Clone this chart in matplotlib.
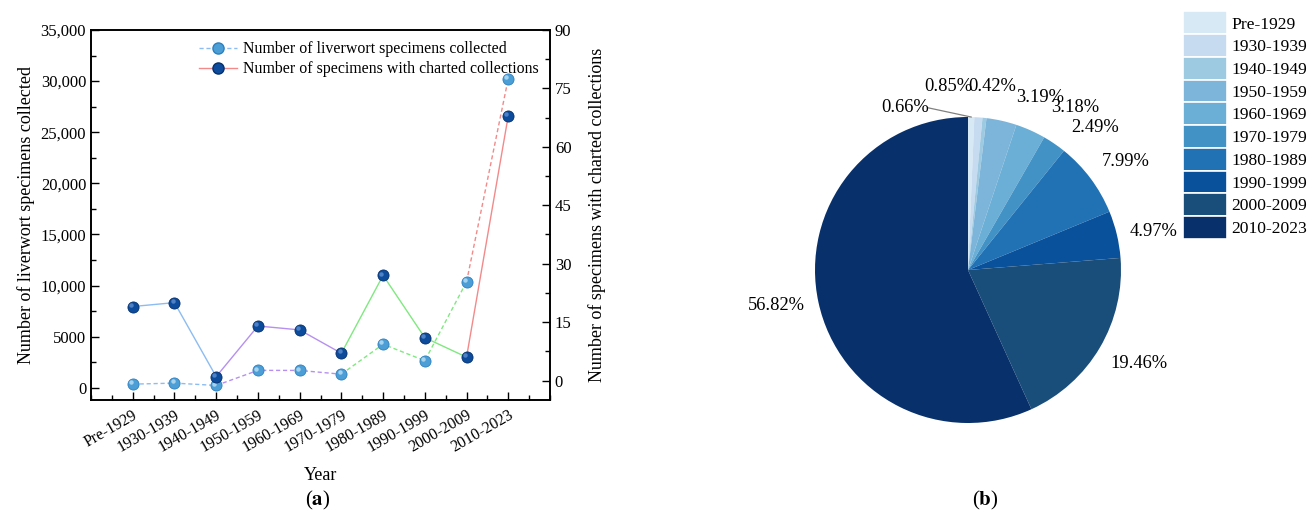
import matplotlib
matplotlib.use("Agg")
import matplotlib.pyplot as plt
import numpy as np
from matplotlib.lines import Line2D
from matplotlib.patches import Patch
from matplotlib.ticker import MultipleLocator, FuncFormatter
import matplotlib.transforms as mtransforms

plt.rcParams['font.family'] = ['Liberation Serif', 'DejaVu Serif']
plt.rcParams['mathtext.fontset'] = 'stix'

# ---------------- data ----------------
periods = ["Pre-1929", "1930-1939", "1940-1949", "1950-1959", "1960-1969",
           "1970-1979", "1980-1989", "1990-1999", "2000-2009", "2010-2023"]
specimens = [351, 452, 224, 1698, 1693, 1326, 4254, 2646, 10360, 30250]
charted = [19, 20, 1, 14, 13, 7, 27, 11, 6, 68]
pie_pct = [0.66, 0.85, 0.42, 3.19, 3.18, 2.49, 7.99, 4.97, 19.46, 56.82]

# segment groups (start index, end index) and colours
seg_groups = [(0, 2), (2, 5), (5, 8), (8, 9)]
seg_colors = ["#8cbcf2", "#b690f0", "#80e880", "#f28a8a"]
pie_colors = ["#d6e9f4", "#c6dbef", "#9ecae1", "#7db4d9", "#6baed6",
              "#4292c6", "#2171b5", "#0a519c", "#1a4e7a", "#08306b"]

fig = plt.figure(figsize=(13.12, 5.19), dpi=100)

# ---------------- (a) line chart ----------------
ax = fig.add_axes([91/1312, 1-400/519, (550-91)/1312, (400-30)/519])
ax2 = ax.twinx()
x = np.arange(len(periods))

light_c, light_e = "#4b9fd6", "#2f7fbf"
dark_c, dark_e = "#0d4c9c", "#06306a"

for (a, b), c in zip(seg_groups, seg_colors):
    ax.plot(x[a:b+1], specimens[a:b+1], ls=(0, (3, 2)), color=c, lw=1.0, zorder=2)
    ax2.plot(x[a:b+1], charted[a:b+1], ls='-', color=c, lw=1.0, zorder=2)

ax.plot(x, specimens, ls='none', marker='o', ms=8, mfc=light_c, mec=light_e,
        mew=0.6, zorder=3)
ax2.plot(x, charted, ls='none', marker='o', ms=8, mfc=dark_c, mec=dark_e,
         mew=0.6, zorder=3)
# sphere highlights
off1 = mtransforms.offset_copy(ax.transData, fig=fig, x=-1.3, y=1.3, units='points')
off2 = mtransforms.offset_copy(ax2.transData, fig=fig, x=-1.3, y=1.3, units='points')
ax.plot(x, specimens, ls='none', marker='o', ms=3.2, mfc="#bfe0f5", mec='none',
        alpha=0.8, transform=off1, zorder=4)
ax2.plot(x, charted, ls='none', marker='o', ms=3.2, mfc="#5f8fd0", mec='none',
         alpha=0.8, transform=off2, zorder=4)

ax.set_xlim(-1, 10)
ax.set_ylim(-1200, 35000)
ax2.set_ylim(-5.0, 90)
ax.set_xticks(x)
ax.set_xticklabels(periods, rotation=30, ha='right', rotation_mode='anchor',
                   fontsize=11.5)
ax.xaxis.set_minor_locator(MultipleLocator(0.5))
ax.yaxis.set_major_locator(MultipleLocator(5000))
ax.yaxis.set_minor_locator(MultipleLocator(2500))
ax.yaxis.set_major_formatter(FuncFormatter(
    lambda v, p: f"{int(v):,}" if v >= 10000 else f"{int(v)}"))
ax2.yaxis.set_major_locator(MultipleLocator(15))
ax2.yaxis.set_minor_locator(MultipleLocator(7.5))

for a_ in (ax, ax2):
    a_.tick_params(which='both', direction='in', labelsize=12, width=1.0)
    a_.tick_params(which='major', length=6)
    a_.tick_params(which='minor', length=3.5)
    for s in a_.spines.values():
        s.set_linewidth(1.2)
ax.tick_params(axis='x', labelsize=11.5, pad=5)

ax.set_ylabel("Number of liverwort specimens collected", fontsize=13, labelpad=4)
ax2.set_ylabel("Number of specimens with charted collections", fontsize=13,
               labelpad=12)
ax.set_xlabel("Year", fontsize=13, labelpad=8)

handles = [
    Line2D([0], [0], color=seg_colors[0], ls=(0, (3, 2)), lw=1.0, marker='o',
           ms=8, mfc=light_c, mec=light_e),
    Line2D([0], [0], color=seg_colors[3], ls='-', lw=1.0, marker='o',
           ms=8, mfc=dark_c, mec=dark_e),
]
ax2.legend(handles, ["Number of liverwort specimens collected",
                     "Number of specimens with charted collections"],
           loc='upper right', frameon=False, fontsize=11.4, handlelength=2.4,
           handletextpad=0.4, labelspacing=0.25, borderaxespad=0.3)

fig.text(318/1312, 1-500/519, r"($\mathbf{a}$)", fontsize=15, ha='center',
         va='center')

# ---------------- (b) pie chart ----------------
R = 153.0
half = R * 1.5
pax = fig.add_axes([(968-half)/1312, (519-270-half)/519, 2*half/1312, 2*half/519])
wedges, _ = pax.pie(pie_pct, colors=pie_colors, startangle=90, counterclock=False,
                    radius=1.0, wedgeprops=dict(linewidth=0))
pax.set_xlim(-1.5, 1.5)
pax.set_ylim(-1.5, 1.5)
pax.set_aspect('equal')
pax.axis('off')

# label positions (pie units) for each slice's percentage text
label_pos = [(-0.41, 1.06), (-0.13, 1.20), (0.16, 1.20), (0.47, 1.13),
             (0.70, 1.06), (0.83, 0.93), (1.03, 0.71), (1.21, 0.25),
             (1.12, -0.61), (-1.25, -0.23)]
for w, p, (lx, ly) in zip(wedges, pie_pct, label_pos):
    pax.text(lx, ly, f"{p:.2f}%", ha='center', va='center', fontsize=13.3)
# leader line for first slice
w0 = wedges[0]
ang = np.deg2rad((w0.theta1 + w0.theta2) / 2)
pax.plot([-0.26, np.cos(ang)], [1.06, np.sin(ang)], color='#808080', lw=0.9)

leg_handles = [Patch(facecolor=c, edgecolor='white', lw=1.2) for c in pie_colors]
fig.legend(leg_handles, periods, loc='upper left',
           bbox_to_anchor=(1179/1312, 1-8/519), frameon=False, fontsize=12.6,
           handlelength=2.55, handleheight=1.62, handletextpad=0.25,
           labelspacing=0.0, borderaxespad=0, borderpad=0.2)

fig.text(985/1312, 1-500/519, r"($\mathbf{b}$)", fontsize=15, ha='center',
         va='center')

fig.savefig("out.png", dpi=100)
